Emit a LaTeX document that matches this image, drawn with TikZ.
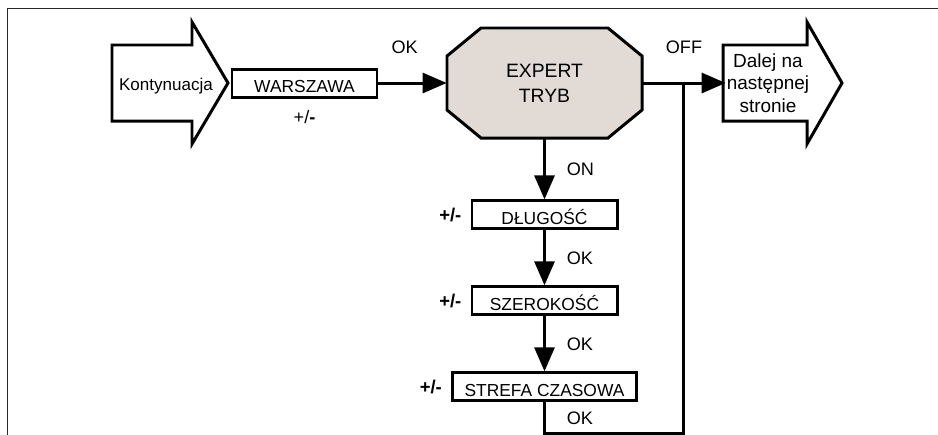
\documentclass[tikz,border=0pt]{standalone}
\usepackage{fontspec}
\setmainfont{Liberation Sans}
\usetikzlibrary{positioning,arrows.meta}
\definecolor{expertfill}{HTML}{E1DAD5}

\begin{document}
\begin{tikzpicture}[
  menubox/.style={draw, line width=1.7pt, minimum height=0.56cm, inner sep=0pt,
    text height=2.05ex, text depth=0pt, font=\fontsize{9.9}{11}\selectfont},
  flow/.style={line width=1.7pt, -{Triangle[length=0.48cm,width=0.4cm]}},
  plain/.style={line width=1.7pt},
  bigarrow/.style={draw, line width=1.7pt, line join=miter},
  steplabel/.style={font=\fontsize{10.3}{12}\selectfont},
  pm/.style={font=\bfseries\fontsize{10.5}{12}\selectfont}
]
  \useasboundingbox (0cm,0cm) rectangle (18.76cm,-8.68cm);
  % page frame
  \draw[line width=1.1pt, black!85] (0.15cm,-8.9cm) -- (0.15cm,-0.17cm) -- (19cm,-0.17cm);

  % input arrow
  \draw[bigarrow] (2.24cm,-0.9cm) -- (3.84cm,-0.9cm) -- (3.84cm,-0.44cm) -- (4.56cm,-1.66cm)
    -- (3.84cm,-2.88cm) -- (3.84cm,-2.42cm) -- (2.24cm,-2.42cm) -- cycle;
  \node (kont) at (3.32cm,-1.72cm) {\fontsize{9.7}{11}\selectfont Kontynuacja};

  \node (warszawa) [menubox, minimum width=2.9cm] at (6.09cm,-1.66cm) {WARSZAWA};
  \node (warszawapm) [below=0.12cm of warszawa, font=\fontsize{10.3}{12}\selectfont] {+/\textbf{-}};

  % expert mode
  \filldraw[fill=expertfill, line width=1.7pt] (9.62cm,-0.56cm) -- (12.16cm,-0.56cm) -- (12.84cm,-1.12cm)
    -- (12.84cm,-2.2cm) -- (12.16cm,-2.76cm) -- (9.62cm,-2.76cm) -- (8.94cm,-2.2cm) -- (8.94cm,-1.12cm) -- cycle;
  \node (expert) [minimum width=3.9cm, minimum height=2.2cm, align=center,
    font=\fontsize{11}{14.2}\selectfont] at (10.89cm,-1.66cm) {EXPERT\\TRYB};

  % output arrow
  \draw[bigarrow] (14.46cm,-0.9cm) -- (16.14cm,-0.9cm) -- (16.14cm,-0.44cm) -- (16.84cm,-1.66cm)
    -- (16.14cm,-2.88cm) -- (16.14cm,-2.42cm) -- (14.46cm,-2.42cm) -- cycle;
  \node (dalej) [minimum width=1.68cm, minimum height=1.52cm, align=center, inner sep=0pt,
    font=\fontsize{10.8}{12.9}\selectfont] at (15.36cm,-1.66cm) {Dalej na\\następnej\\stronie};

  % settings
  \node (dlugosc) [menubox, minimum width=2.9cm, below=1.22cm of expert] {DŁUGOŚĆ};
  \node (szerokosc) [menubox, minimum width=2.9cm, below=1.1cm of dlugosc] {SZEROKOŚĆ};
  \node (strefa) [menubox, minimum width=3.68cm, below=1.1cm of szerokosc] {STREFA CZASOWA};
  \node (dlugoscpm) [pm, left=0.06cm of dlugosc] {+/-};
  \node (szerokoscpm) [pm, left=0.06cm of szerokosc] {+/-};
  \node (strefapm) [pm, left=0.06cm of strefa] {+/-};

  \coordinate (jn) at (13.66cm,-1.66cm);

  \draw[flow] (warszawa) -- node[steplabel, above=0.44cm, xshift=-0.16cm] {OK} (expert);
  \draw[flow] (expert) -- node[steplabel, above=0.44cm] {OFF} (dalej);
  \draw[flow] (expert) -- node[steplabel, right=0.3cm] {ON} (dlugosc);
  \draw[flow] (dlugosc) -- node[steplabel, right=0.3cm] {OK} (szerokosc);
  \draw[flow] (szerokosc) -- node[steplabel, right=0.3cm] {OK} (strefa);
  \draw[plain] (strefa.south) -- node[steplabel, right=0.3cm] {OK} ++(0,-0.62cm) -| (jn);
\end{tikzpicture}
\end{document}
